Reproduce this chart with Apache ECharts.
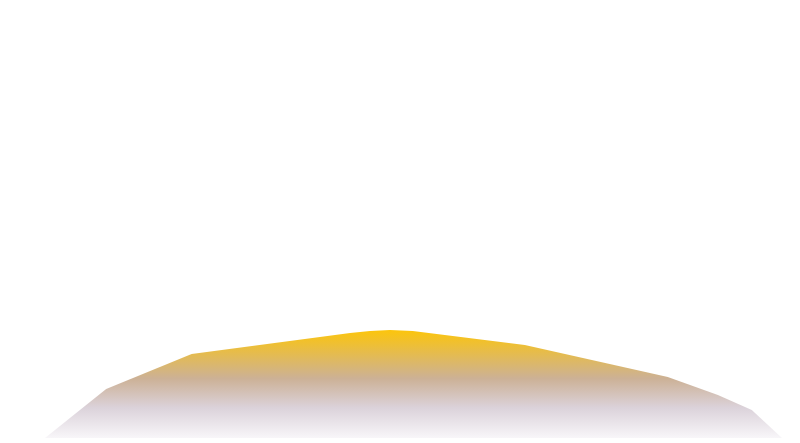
<!DOCTYPE html>
<html>
<head>
<meta charset="utf-8">
<script src="https://cdn.jsdelivr.net/npm/echarts@6/dist/echarts.min.js"></script>
<style>
  html, body { margin: 0; padding: 0; background: #fff; }
  #main { width: 800px; height: 443px; }
</style>
</head>
<body>
<div id="main"></div>
<script>
// 数据：横坐标位置（0-100）与高度
const xValues = [0, 8.3, 19.9, 41.4, 44.1, 46.8, 49.9, 65.1, 84.5, 91.3, 95.9, 100];
const yValues = [0, 12.25, 21, 26.25, 26.75, 27, 26.75, 23.25, 15.25, 10.75, 7, 0];

const points = xValues.map((x, i) => [x, yValues[i]]);

const myChart = echarts.init(document.getElementById('main'));
myChart.setOption({
    animation: false,
    grid: { left: 45, right: 18, top: 38, bottom: 5 },
    xAxis: { type: 'value', min: 0, max: 100, show: false },
    yAxis: { type: 'value', min: 0, max: 100, show: false },
    series: [
        {
            type: 'line',
            data: points,
            symbol: 'none',
            lineStyle: { width: 0 },
            areaStyle: {
                opacity: 1,
                color: new echarts.graphic.LinearGradient(0, 0, 0, 1, [
                    { offset: 0, color: '#fcc50c' },
                    { offset: 0.45, color: '#ccb196' },
                    { offset: 0.72, color: '#dbd2da' },
                    { offset: 1, color: '#f8f6f9' }
                ])
            }
        }
    ]
});
</script>
</body>
</html>
